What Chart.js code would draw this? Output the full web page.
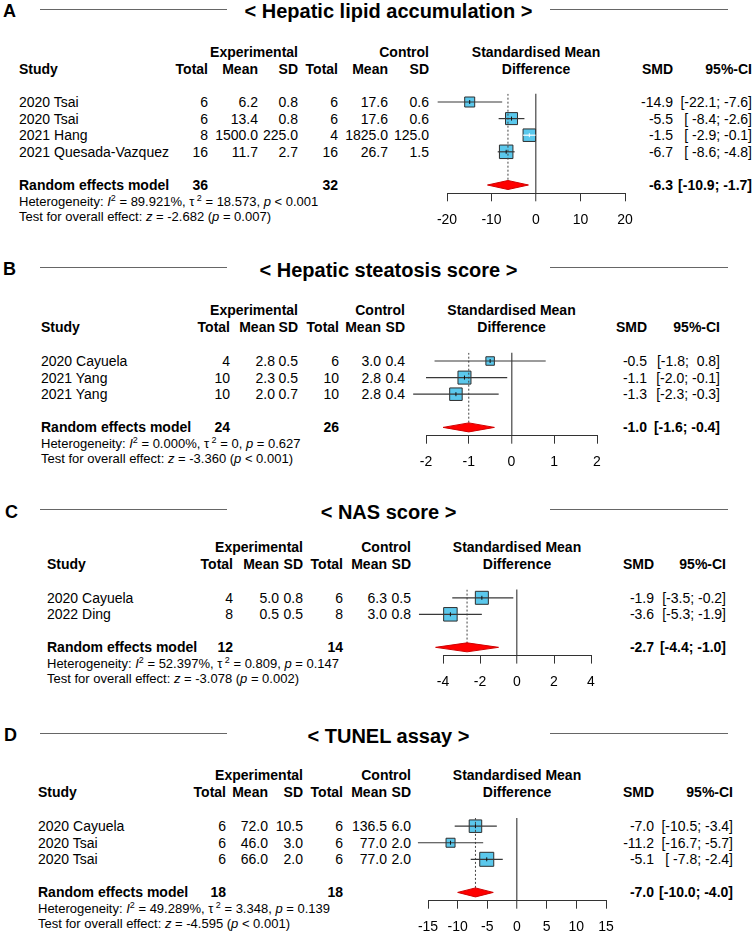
<!DOCTYPE html>
<html>
<head>
<meta charset="utf-8">
<script src="https://cdn.jsdelivr.net/npm/chart.js@4.4.0/dist/chart.umd.min.js"></script>
<style>
body { margin: 0; background: #fff; }
#page { position: relative; width: 754px; height: 933px; overflow: hidden;
        font-family: "Liberation Sans", Arial, sans-serif; color: #000; }
.t { position: absolute; white-space: pre; }
.rule { position: absolute; height: 0; border-top: 1px solid #666; }
canvas { position: absolute; }
sup { font-size: 9px; vertical-align: 5px; line-height: 0; }
</style>
</head>
<body>
<div id="page"></div>
<script>
// ---- data ----
const letters = ['A', 'B', 'C', 'D'];
const titles = ['< Hepatic lipid accumulation >', '< Hepatic steatosis score >', '< NAS score >', '< TUNEL assay >'];

// A: hepatic lipid accumulation
const studiesA = ['2020 Tsai', '2020 Tsai', '2021 Hang', '2021 Quesada-Vazquez'];
const expNA = [6, 6, 8, 16];
const expMeanA = [6.2, 13.4, 1500.0, 11.7];
const expSdA = [0.8, 0.8, 225.0, 2.7];
const ctlNA = [6, 6, 4, 16];
const ctlMeanA = [17.6, 17.6, 1825.0, 26.7];
const ctlSdA = [0.6, 0.6, 125.0, 1.5];
const smdA = [-14.9, -5.5, -1.5, -6.7];
const loA = [-22.1, -8.4, -2.9, -8.6];
const hiA = [-7.6, -2.6, -0.1, -4.8];
const pooledA = [-6.3, -10.9, -1.7];
const totalsA = [36, 32];
const ticksA = [-20, -10, 0, 10, 20];

// B: hepatic steatosis score
const studiesB = ['2020 Cayuela', '2021 Yang', '2021 Yang'];
const expNB = [4, 10, 10];
const expMeanB = [2.8, 2.3, 2.0];
const expSdB = [0.5, 0.5, 0.7];
const ctlNB = [6, 10, 10];
const ctlMeanB = [3.0, 2.8, 2.8];
const ctlSdB = [0.4, 0.4, 0.4];
const smdB = [-0.5, -1.1, -1.3];
const loB = [-1.8, -2.0, -2.3];
const hiB = [0.8, -0.1, -0.3];
const pooledB = [-1.0, -1.6, -0.4];
const totalsB = [24, 26];
const ticksB = [-2, -1, 0, 1, 2];

// C: NAS score
const studiesC = ['2020 Cayuela', '2022 Ding'];
const expNC = [4, 8];
const expMeanC = [5.0, 0.5];
const expSdC = [0.8, 0.5];
const ctlNC = [6, 8];
const ctlMeanC = [6.3, 3.0];
const ctlSdC = [0.5, 0.8];
const smdC = [-1.9, -3.6];
const loC = [-3.5, -5.3];
const hiC = [-0.2, -1.9];
const pooledC = [-2.7, -4.4, -1.0];
const totalsC = [12, 14];
const ticksC = [-4, -2, 0, 2, 4];

// D: TUNEL assay
const studiesD = ['2020 Cayuela', '2020 Tsai', '2020 Tsai'];
const expND = [6, 6, 6];
const expMeanD = [72.0, 46.0, 66.0];
const expSdD = [10.5, 3.0, 2.0];
const ctlND = [6, 6, 6];
const ctlMeanD = [136.5, 77.0, 77.0];
const ctlSdD = [6.0, 2.0, 2.0];
const smdD = [-7.0, -11.2, -5.1];
const loD = [-10.5, -16.7, -7.8];
const hiD = [-3.4, -5.7, -2.4];
const pooledD = [-7.0, -10.0, -4.0];
const totalsD = [18, 18];
const ticksD = [-15, -10, -5, 0, 5, 10, 15];

// heterogeneity / overall test
const hetI2 = ['89.921%', '0.000%', '52.397%', '49.289%'];
const hetTau2 = ['18.573', '0', '0.809', '3.348'];
const hetP = ['< 0.001', '= 0.627', '= 0.147', '= 0.139'];
const testZ = ['-2.682', '-3.360', '-3.078', '-4.595'];
const testP = ['= 0.007', '< 0.001', '= 0.002', '< 0.001'];

// ---- layout / styles ----
const PAGE_W = 754;
const ROW_H = 16.6;
const layouts = [
  { lineY: 9,   titleY: 11,    letterY: 11,    letterX: 3, rowTop: 102,   h1Y: 52,  h2Y: 69,
    studyX: 19, cols: [208, 258, 298, 338, 388, 429], smdX: 673, ciX: 752, axL: 447, axR: 625,
    boxes: [10, 12, 12.5, 13.5] },
  { lineY: 267, titleY: 270,   letterY: 268.5, letterX: 3, rowTop: 361,   h1Y: 310, h2Y: 327,
    studyX: 41, cols: [230, 275, 298, 339, 381, 405], smdX: 647, ciX: 720, axL: 426, axR: 597,
    boxes: [8.5, 13, 12.5] },
  { lineY: 509, titleY: 512,   letterY: 511.5, letterX: 5, rowTop: 597.5, h1Y: 547, h2Y: 564,
    studyX: 47, cols: [233, 279, 303, 343, 387, 411], smdX: 654, ciX: 726, axL: 443, axR: 591,
    boxes: [13, 13.5] },
  { lineY: 733, titleY: 735.5, letterY: 735,   letterX: 4, rowTop: 826,   h1Y: 775, h2Y: 792,
    studyX: 38, cols: [226, 268, 303, 343, 387, 411], smdX: 654, ciX: 733, axL: 428, axR: 606,
    boxes: [12.5, 9, 14] }
];
const BOX_FILL = '#5bc8ec';
const LINE_COL = '#383838';

Chart.defaults.font.family = '"Liberation Sans", Arial, sans-serif';

const page = document.getElementById('page');

function put(text, x, y, o) {
  o = o || {};
  const s = o.size || 14;
  const d = document.createElement('div');
  d.className = 't';
  d.style.fontSize = s + 'px';
  d.style.lineHeight = s + 'px';
  d.style.top = (y - s / 2) + 'px';
  if (o.bold) d.style.fontWeight = 'bold';
  if (o.align === 'r') d.style.right = (PAGE_W - x) + 'px';
  else if (o.align === 'c') { d.style.left = x + 'px'; d.style.transform = 'translateX(-50%)'; }
  else d.style.left = x + 'px';
  if (o.html) d.innerHTML = text; else d.textContent = text;
  page.appendChild(d);
}

function rule(x1, x2, y) {
  const d = document.createElement('div');
  d.className = 'rule';
  d.style.left = x1 + 'px';
  d.style.width = (x2 - x1) + 'px';
  d.style.top = (y - 0.5) + 'px';
  page.appendChild(d);
}

function ciText(lo, hi) {
  const L = lo.map(v => v.toFixed(1)), H = hi.map(v => v.toFixed(1));
  const wl = Math.max(...L.map(s => s.length)), wh = Math.max(...H.map(s => s.length));
  return L.map((s, i) => '[' + s.padStart(wl) + '; ' + H[i].padStart(wh) + ']');
}

const diamondPlugin = {
  id: 'diamond',
  afterDatasetsDraw(chart, args, opts) {
    const xs = chart.scales.x, ys = chart.scales.y, c = chart.ctx;
    const [est, lo, hi] = opts.pooled;
    const cy = ys.getPixelForValue(opts.row);
    c.save();
    c.beginPath();
    c.moveTo(xs.getPixelForValue(lo), cy);
    c.lineTo(xs.getPixelForValue(est), cy - 4.5);
    c.lineTo(xs.getPixelForValue(hi), cy);
    c.lineTo(xs.getPixelForValue(est), cy + 4.5);
    c.closePath();
    c.fillStyle = '#ff0000';
    c.fill();
    c.strokeStyle = '#d00000';
    c.lineWidth = 1;
    c.stroke();
    c.restore();
  }
};

function drawPanel(k, p) {
  const L = layouts[k];
  const n = p.studies.length;

  // heading
  put(letters[k], L.letterX, L.letterY, { size: 18, bold: true });
  rule(40, 227, L.lineY);
  rule(550, 728, L.lineY);
  put(titles[k], 388.5, L.titleY, { size: 20, bold: true, align: 'c' });

  // column headers
  const mid = (L.axL + L.axR) / 2;
  const hb = { bold: true, align: 'r' };
  put('Experimental', L.cols[2], L.h1Y, hb);
  put('Control', L.cols[5], L.h1Y, hb);
  put('Standardised Mean', mid, L.h1Y, { bold: true, align: 'c' });
  put('Study', L.studyX, L.h2Y, { bold: true });
  ['Total', 'Mean', 'SD', 'Total', 'Mean', 'SD'].forEach((h, j) => put(h, L.cols[j], L.h2Y, hb));
  put('Difference', mid, L.h2Y, { bold: true, align: 'c' });
  put('SMD', L.smdX, L.h2Y, hb);
  put('95%-CI', L.ciX, L.h2Y, hb);

  // study rows
  const ci = ciText(p.lo, p.hi);
  p.studies.forEach((s, i) => {
    const y = L.rowTop + i * ROW_H;
    put(s, L.studyX, y);
    const vals = [String(p.expN[i]), p.expMean[i].toFixed(1), p.expSd[i].toFixed(1),
                  String(p.ctlN[i]), p.ctlMean[i].toFixed(1), p.ctlSd[i].toFixed(1)];
    vals.forEach((v, j) => put(v, L.cols[j], y, { align: 'r' }));
    put(p.smd[i].toFixed(1), L.smdX, y, { align: 'r' });
    put(ci[i], L.ciX, y, { align: 'r' });
  });

  // pooled row
  const yr = L.rowTop + (n + 1) * ROW_H;
  put('Random effects model', L.studyX, yr, { bold: true });
  put(String(p.totals[0]), L.cols[0], yr, hb);
  put(String(p.totals[1]), L.cols[3], yr, hb);
  put(p.pooled[0].toFixed(1), L.smdX, yr, hb);
  put(ciText([p.pooled[1]], [p.pooled[2]])[0], L.ciX, yr, hb);
  put('Heterogeneity: <i>I</i><sup>2</sup> = ' + hetI2[k] + ', \u03c4<sup> 2</sup> = ' + hetTau2[k] +
      ', <i>p</i> ' + hetP[k].replace('<', '&lt;'), L.studyX, yr + 16.5, { size: 13, html: true });
  put('Test for overall effect: <i>z</i> = ' + testZ[k] + ' (<i>p</i> ' + testP[k].replace('<', '&lt;') + ')',
      L.studyX, yr + 31, { size: 13, html: true });

  // forest plot
  const areaTop = L.rowTop - ROW_H / 2;
  const areaBottom = L.rowTop + (n + 1.5) * ROW_H;
  const cTop = Math.floor(areaTop - 10);
  const cH = Math.ceil(areaBottom - cTop + 42);
  const cv = document.createElement('canvas');
  cv.width = L.axR - L.axL + 80;
  cv.height = cH;
  cv.style.left = (L.axL - 40) + 'px';
  cv.style.top = cTop + 'px';
  page.appendChild(cv);

  const pts = p.smd.map((v, i) => ({ x: v, y: i }));
  const ciColor = i => ctx => {
    const xs = ctx.chart.scales.x;
    const w = xs.getPixelForValue(p.hi[i]) - xs.getPixelForValue(p.lo[i]);
    return w <= L.boxes[i] ? '#ffffff' : LINE_COL;
  };
  const datasets = [];
  datasets.push({
    data: pts, pointStyle: 'rect', pointRadius: L.boxes.map(s => s / Math.SQRT2),
    backgroundColor: BOX_FILL, borderColor: '#2e2e2e', borderWidth: 1, clip: false, order: 4
  });
  p.lo.forEach((lo, i) => datasets.push({
    data: [{ x: lo, y: i }, { x: p.hi[i], y: i }], showLine: true, pointRadius: 0,
    borderColor: ciColor(i), borderWidth: 1.2, clip: false, order: 2
  }));
  datasets.push({
    data: pts, pointStyle: 'line', rotation: 90, pointRadius: 2,
    borderColor: p.smd.map((v, i) => {
      const w = (p.hi[i] - p.lo[i]) / (p.ticks[p.ticks.length - 1] - p.ticks[0]) * (L.axR - L.axL);
      return w <= L.boxes[i] ? '#ffffff' : '#111111';
    }),
    borderWidth: 1, clip: false, order: 1
  });
  datasets.push({
    data: [{ x: p.pooled[0], y: -0.5 }, { x: p.pooled[0], y: n + 1 }], showLine: true, pointRadius: 0,
    borderColor: '#444', borderWidth: 1, borderDash: [2, 2], order: 3
  });

  new Chart(cv, {
    type: 'scatter',
    data: { datasets },
    plugins: [diamondPlugin],
    options: {
      responsive: false, animation: false, events: [],
      layout: { padding: { left: 40, right: 40, top: areaTop - cTop, bottom: cH - 40 - (areaBottom - cTop) } },
      plugins: {
        legend: { display: false }, tooltip: { enabled: false },
        diamond: { pooled: p.pooled, row: n + 1 }
      },
      scales: {
        x: {
          type: 'linear', min: p.ticks[0], max: p.ticks[p.ticks.length - 1],
          afterBuildTicks: s => { s.ticks = p.ticks.map(v => ({ value: v })); },
          afterFit: s => { s.height = 40; },
          ticks: { font: { size: 14 }, color: '#000', padding: 10, maxRotation: 0, autoSkip: false },
          grid: {
            color: c => (c.tick && c.tick.value === 0) ? '#6a6a6a' : 'rgba(0,0,0,0)',
            lineWidth: c => (c.tick && c.tick.value === 0) ? 1.5 : 1,
            tickColor: '#333', tickWidth: 1, tickLength: 8, drawTicks: true
          },
          border: { display: true, color: '#333', width: 1 }
        },
        y: { type: 'linear', reverse: true, min: -0.5, max: n + 1.5, display: false }
      }
    }
  });
}

drawPanel(0, { studies: studiesA, expN: expNA, expMean: expMeanA, expSd: expSdA, ctlN: ctlNA, ctlMean: ctlMeanA,
  ctlSd: ctlSdA, smd: smdA, lo: loA, hi: hiA, pooled: pooledA, totals: totalsA, ticks: ticksA });
drawPanel(1, { studies: studiesB, expN: expNB, expMean: expMeanB, expSd: expSdB, ctlN: ctlNB, ctlMean: ctlMeanB,
  ctlSd: ctlSdB, smd: smdB, lo: loB, hi: hiB, pooled: pooledB, totals: totalsB, ticks: ticksB });
drawPanel(2, { studies: studiesC, expN: expNC, expMean: expMeanC, expSd: expSdC, ctlN: ctlNC, ctlMean: ctlMeanC,
  ctlSd: ctlSdC, smd: smdC, lo: loC, hi: hiC, pooled: pooledC, totals: totalsC, ticks: ticksC });
drawPanel(3, { studies: studiesD, expN: expND, expMean: expMeanD, expSd: expSdD, ctlN: ctlND, ctlMean: ctlMeanD,
  ctlSd: ctlSdD, smd: smdD, lo: loD, hi: hiD, pooled: pooledD, totals: totalsD, ticks: ticksD });
</script>
</body>
</html>
